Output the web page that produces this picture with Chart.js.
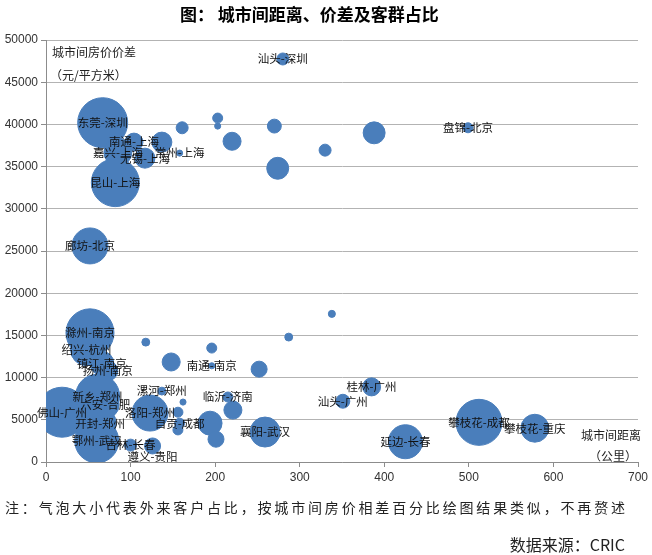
<!DOCTYPE html>
<html>
<head>
<meta charset="utf-8">
<script src="https://cdn.jsdelivr.net/npm/chart.js"></script>
<style>
body { margin: 0; background: #fff; }
canvas { display: block; }
</style>
</head>
<body>
<canvas id="canvas" width="652" height="555"></canvas>
<script>
// city pairs, distance (km), price gap (yuan/m2), share of outside buyers (%)
var names = [
    '汕头-深圳', '东莞-深圳', '南通-上海', '嘉兴-上海', '无锡-上海', '常州-上海', '昆山-上海', '盘锦-北京',
    '廊坊-北京', '滁州-南京', '绍兴-杭州', '镇江-南京', '扬州-南京', '南通-南京',
    '佛山-广州', '新乡-郑州', '六安-合肥', '开封-郑州', '鄂州-武汉', '漯河-郑州', '洛阳-郑州', '自贡-成都',
    '临沂-济南', '襄阳-武汉', '吉林-长春', '遵义-贵阳', '汕头-广州', '桂林-广州',
    '攀枝花-成都', '攀枝花-重庆', '延边-长春',
    '', '', '', '', '', '', '', '', '',
    '', '', '', '', '', '',
    '', '', '', '', '', ''
];
var distance = [
    280, 67, 104, 85, 117, 158, 82, 499,
    52, 52, 48, 66, 73, 196,
    19, 61, 70, 64, 60, 137, 123, 158,
    215, 259, 100, 126, 351, 385,
    512, 578, 425,
    161, 203, 203, 270, 220, 137, 330, 274, 388,
    118, 196, 148, 252, 287, 338,
    162, 156, 156, 194, 201, 221
];
var priceGap = [
    47750, 40200, 37900, 36700, 36000, 36600, 33100, 39600,
    25600, 15300, 13300, 11700, 10800, 11400,
    5900, 7800, 6800, 4600, 2500, 8400, 5800, 4600,
    7700, 3550, 2000, 1900, 7200, 8900,
    4700, 4000, 2400,
    39600, 40750, 39800, 39800, 38000, 37900, 36950, 34800, 39000,
    14200, 13500, 11850, 11000, 14800, 17550,
    7100, 5900, 3800, 4600, 2700, 6150
];
var share = [
    2.3, 40, 5.2, 12.5, 6.4, 0.6, 36.9, 1.6,
    20.7, 36.9, 16.4, 9.2, 6.4, 0.6,
    40, 31, 12.5, 16.4, 31, 1.0, 20.7, 1.6,
    1.6, 14.4, 2.3, 4.1, 3.1, 5.2,
    33.9, 12.5, 18.5,
    2.3, 1.6, 0.6, 3.1, 5.2, 6.4, 2.3, 7.7, 7.7,
    1.0, 1.6, 5.2, 4.1, 1.0, 0.8,
    0.6, 1.6, 1.6, 9.2, 4.1, 5.2
];
var xTicks = [0, 100, 200, 300, 400, 500, 600, 700];
var yTicks = [0, 5000, 10000, 15000, 20000, 25000, 30000, 35000, 40000, 45000, 50000];

var title = '图： 城市间距离、价差及客群占比';
var note = '注：气泡大小代表外来客户占比，按城市间房价相差百分比绘图结果类似，不再赘述';
var source = '数据来源：CRIC';

// labels that were dragged off their bubble (pixels down)
var labelShift = { '遵义-贵阳': 11 };

// bubble area proportional to share, 40% -> radius 25px
function radius(s) {
    return 25 * Math.sqrt(s / 40);
}

var points = [];
for (var i = 0; i < names.length; i++) {
    points.push({ x: distance[i], y: priceGap[i], r: radius(share[i]) });
}

var cjk = '"Noto Sans CJK SC", "Noto Sans", sans-serif';

var textPlugin = {
    id: 'texts',
    afterDatasetsDraw: function (chart) {
        var ctx = chart.ctx;
        var meta = chart.getDatasetMeta(0);
        ctx.save();
        ctx.fillStyle = '#111';
        ctx.font = '11.5px ' + cjk;
        ctx.textAlign = 'center';
        ctx.textBaseline = 'middle';
        meta.data.forEach(function (el, i) {
            if (names[i]) ctx.fillText(names[i], el.x, el.y + (labelShift[names[i]] || 0));
        });
        ctx.restore();
    },
    afterDraw: function (chart) {
        var ctx = chart.ctx;
        var a = chart.chartArea;
        ctx.save();
        ctx.fillStyle = '#000';
        ctx.textBaseline = 'middle';
        ctx.textAlign = 'left';
        ctx.font = 'bold 17px ' + cjk;
        ctx.fillText(title, 180, 15);

        ctx.fillStyle = '#222';
        ctx.font = '12px ' + cjk;
        ctx.fillText('城市间房价价差', a.left + 6, 52);
        ctx.fillText('（元/平方米）', a.left + 4, 75);
        ctx.textAlign = 'center';
        ctx.fillText('城市间距离', 611, 435);
        ctx.fillText('（公里）', 613, 456);

        // footnote stretched over the width
        ctx.textAlign = 'left';
        ctx.font = '14px ' + cjk;
        var w = ctx.measureText(note).width;
        ctx.letterSpacing = ((620 - w) / (note.length - 1)) + 'px';
        ctx.fillText(note, 5, 508);
        ctx.letterSpacing = '0px';

        ctx.textAlign = 'right';
        ctx.font = '16px ' + cjk;
        ctx.fillText(source, 625, 545);
        ctx.restore();
    }
};

var ctx = document.getElementById('canvas').getContext('2d');
window.myBubble = new Chart(ctx, {
    type: 'bubble',
    data: {
        datasets: [{
            label: '城市对',
            data: points,
            backgroundColor: '#4a7ebb',
            borderColor: '#4a7ebb',
            borderWidth: 1,
            clip: { left: 0, top: false, right: false, bottom: 0 }
        }]
    },
    options: {
        responsive: false,
        animation: false,
        layout: { autoPadding: false, padding: { left: 0, top: 40, right: 14, bottom: 63 } },
        plugins: {
            legend: { display: false },
            tooltip: { enabled: false }
        },
        scales: {
            x: {
                type: 'linear',
                min: 0,
                max: 700,
                afterBuildTicks: function (s) { s.ticks = xTicks.map(v => ({ value: v })); },
                afterFit: function (s) {
                    s.height = 30;
                    s.paddingLeft = 0;
                    s.paddingRight = 0;
                },
                grid: { drawOnChartArea: false, drawTicks: true, tickLength: 5, color: '#8c8c8c' },
                border: { color: '#8c8c8c' },
                ticks: { padding: 3, color: '#333', font: { size: 12, family: '"Liberation Sans", Arial, sans-serif' } }
            },
            y: {
                type: 'linear',
                min: 0,
                max: 50000,
                afterBuildTicks: function (s) { s.ticks = yTicks.map(v => ({ value: v })); },
                afterFit: function (s) {
                    s.width = 46;
                    s.paddingTop = 0;
                    s.paddingBottom = 0;
                },
                grid: { color: '#b3b3b3', tickLength: 5, tickColor: '#8c8c8c' },
                border: { color: '#8c8c8c' },
                ticks: {
                    padding: 3,
                    color: '#333',
                    font: { size: 12, family: '"Liberation Sans", Arial, sans-serif' },
                    callback: function (v) { return String(v); }
                }
            }
        }
    },
    plugins: [textPlugin]
});
</script>
</body>
</html>
